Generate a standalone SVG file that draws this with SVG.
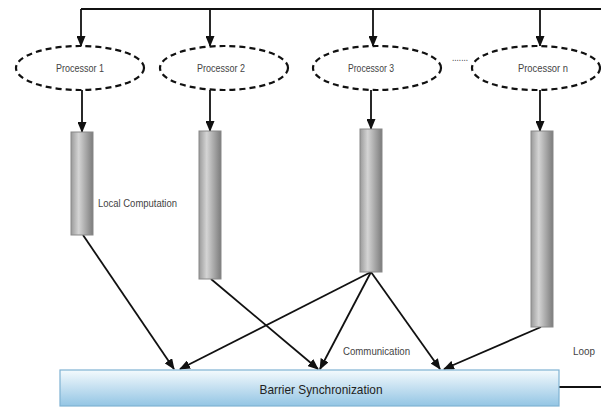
<svg xmlns="http://www.w3.org/2000/svg" width="601" height="409" viewBox="0 0 601 409">
<defs>
<style>
.proc ellipse{fill:#fff;stroke:#111;stroke-width:2.2;stroke-dasharray:6,4}
.lbl{font-family:"Liberation Sans",Arial,sans-serif;font-size:11px;fill:#444}
.bar rect{fill:url(#barg);stroke:#888;stroke-width:1}
.conn line,.conn path{stroke:#111;stroke-width:1.8;fill:none}
.arr{marker-end:url(#ah)}
</style>
<marker id="ah" markerWidth="11" markerHeight="9" refX="10" refY="4.5" orient="auto" markerUnits="userSpaceOnUse">
<path d="M0,0 L11,4.5 L0,9 Z" fill="#111"/>
</marker>
<linearGradient id="barg" x1="0" y1="0" x2="1" y2="0">
<stop offset="0" stop-color="#9a9a9a"/>
<stop offset="0.35" stop-color="#d4d4d4"/>
<stop offset="1" stop-color="#7c7c7c"/>
</linearGradient>
<linearGradient id="boxg" x1="0" y1="0" x2="0" y2="1">
<stop offset="0" stop-color="#f4fafd"/>
<stop offset="1" stop-color="#93c5e4"/>
</linearGradient>
</defs>
<g class="conn">
<path d="M81,9 H601"/>
<line class="arr" x1="81" y1="9" x2="81" y2="46"/>
<line class="arr" x1="210" y1="9" x2="210" y2="46"/>
<line class="arr" x1="373" y1="9" x2="373" y2="46"/>
<line class="arr" x1="540" y1="9" x2="540" y2="46"/>
<line class="arr" x1="82" y1="90" x2="82" y2="132"/>
<line class="arr" x1="210" y1="90" x2="210" y2="131"/>
<line class="arr" x1="371" y1="90" x2="371" y2="129"/>
<line class="arr" x1="540" y1="90" x2="540" y2="131"/>
<line class="arr" x1="83" y1="235" x2="174" y2="369"/>
<line class="arr" x1="211" y1="279" x2="318" y2="369"/>
<line class="arr" x1="371" y1="272" x2="180" y2="369"/>
<line class="arr" x1="371" y1="272" x2="320" y2="369"/>
<line class="arr" x1="371" y1="272" x2="440" y2="369"/>
<line class="arr" x1="541" y1="327" x2="444" y2="369"/>
<path d="M559,387 H601"/>
</g>
<g id="p1" class="proc"><ellipse cx="80" cy="68" rx="64" ry="22"/><text class="lbl" x="80" y="72" text-anchor="middle" textLength="48" lengthAdjust="spacingAndGlyphs">Processor 1</text></g>
<g id="p2" class="proc"><ellipse cx="224" cy="68" rx="64" ry="22"/><text class="lbl" x="221" y="72" text-anchor="middle" textLength="48" lengthAdjust="spacingAndGlyphs">Processor 2</text></g>
<g id="p3" class="proc"><ellipse cx="377" cy="68" rx="64" ry="22"/><text class="lbl" x="371" y="72" text-anchor="middle" textLength="46" lengthAdjust="spacingAndGlyphs">Processor 3</text></g>
<g id="pn" class="proc"><ellipse cx="536" cy="68" rx="64" ry="22"/><text class="lbl" x="543" y="72" text-anchor="middle" textLength="50" lengthAdjust="spacingAndGlyphs">Processor n</text></g>
<g id="dots"><text class="lbl" x="452" y="61" textLength="16" lengthAdjust="spacingAndGlyphs">.......</text></g>
<g id="b1" class="bar"><rect x="71" y="132" width="22" height="103"/></g>
<g id="b2" class="bar"><rect x="199" y="131" width="22" height="148"/></g>
<g id="b3" class="bar"><rect x="360" y="129" width="22" height="143"/></g>
<g id="bn" class="bar"><rect x="531" y="131" width="22" height="196"/></g>
<g id="lc"><text class="lbl" x="98" y="207" textLength="79" lengthAdjust="spacingAndGlyphs">Local Computation</text></g>
<g id="comm"><text class="lbl" x="343" y="355" textLength="67" lengthAdjust="spacingAndGlyphs">Communication</text></g>
<g id="loop"><text class="lbl" x="573" y="355" textLength="22" lengthAdjust="spacingAndGlyphs">Loop</text></g>
<g id="barrier"><rect x="60" y="370" width="499" height="36" fill="url(#boxg)" stroke="#7fb2d3" stroke-width="1.2"/><text x="321" y="394" text-anchor="middle" font-family="Liberation Sans,Arial,sans-serif" font-size="13" fill="#222" textLength="123" lengthAdjust="spacingAndGlyphs">Barrier Synchronization</text></g>
</svg>
